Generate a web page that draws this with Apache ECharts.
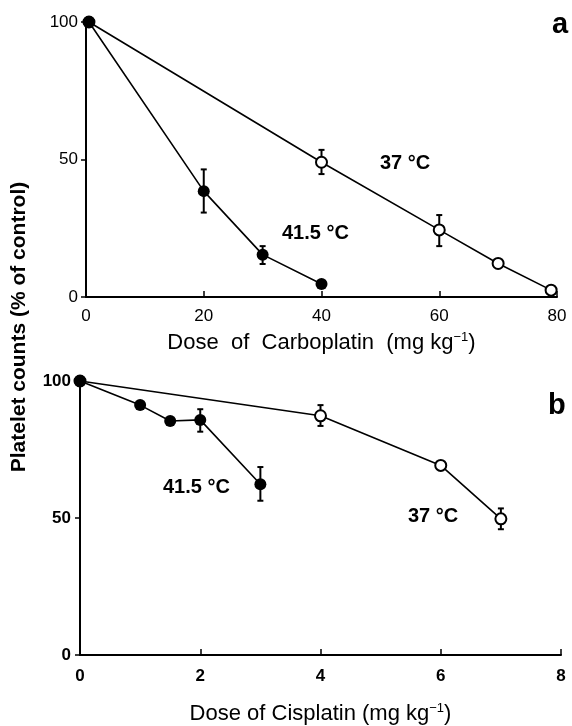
<!DOCTYPE html>
<html>
<head>
<meta charset="utf-8">
<script src="https://cdn.jsdelivr.net/npm/echarts@6/dist/echarts.min.js"></script>
<style>
  html, body { margin: 0; padding: 0; background: #fff; }
  #main { width: 572px; height: 726px; }
</style>
</head>
<body>
<div id="main"></div>
<script>
// panel a: carboplatin
var carboHot = [[0.5, 100], [20, 38.5], [30, 15.4], [40, 4.7]];
var carboHotErr = [[20, 30.7, 46.4], [30, 12.0, 18.5]];
var carboNorm = [[0.5, 100], [40, 49.0], [60, 24.4], [70, 12.2], [79, 2.5]];
var carboNormErr = [[40, 44.7, 53.5], [60, 18.5, 29.8]];

// panel b: cisplatin
var cisHot = [[0, 100], [1, 91.2], [1.5, 85.4], [2, 85.8], [3, 62.3]];
var cisHotErr = [[2, 81.5, 89.7], [3, 56.3, 68.6]];
var cisNorm = [[0, 100], [4, 87.3], [6, 69.2], [7, 49.7]];
var cisNormErr = [[4, 83.6, 91.2], [7, 45.9, 53.5]];

var font = 'Liberation Sans';

var myChart = echarts.init(document.getElementById('main'));

function errBars(data, idx) {
    return {
        type: 'custom',
        xAxisIndex: idx,
        yAxisIndex: idx,
        z: 1,
        data: data,
        renderItem: function (params, api) {
            var lo = api.coord([api.value(0), api.value(1)]);
            var hi = api.coord([api.value(0), api.value(2)]);
            var st = { stroke: '#000', lineWidth: 2 };
            return {
                type: 'group',
                children: [
                    { type: 'line', shape: { x1: lo[0], y1: lo[1], x2: hi[0], y2: hi[1] }, style: st },
                    { type: 'line', shape: { x1: lo[0] - 3, y1: lo[1], x2: lo[0] + 3, y2: lo[1] }, style: st },
                    { type: 'line', shape: { x1: hi[0] - 3, y1: hi[1], x2: hi[0] + 3, y2: hi[1] }, style: st }
                ]
            };
        }
    };
}

function lineSeries(data, idx, open) {
    return {
        type: 'line',
        xAxisIndex: idx,
        yAxisIndex: idx,
        data: data,
        z: open ? 3 : 4,
        symbol: 'circle',
        symbolSize: open ? 11 : 12,
        lineStyle: { color: '#000', width: 1.6 },
        itemStyle: open ? { color: '#fff', borderColor: '#000', borderWidth: 2 } : { color: '#000' },
        animation: false
    };
}

var xName = {
    fontFamily: font, fontSize: 22, color: '#000',
    rich: { sup: { fontFamily: font, fontSize: 13, color: '#000', verticalAlign: 'top', padding: [0, 0, 10, 0] } }
};

var option = {
    animation: false,
    textStyle: { fontFamily: font },
    grid: [
        { left: 86, right: 15, top: 22, height: 275 },
        { left: 80, right: 11, top: 381, height: 274 }
    ],
    xAxis: [
        {
            gridIndex: 0, type: 'value', min: 0, max: 80, interval: 20,
            axisLine: { lineStyle: { color: '#000', width: 2 } },
            axisTick: { inside: true, length: 6, lineStyle: { color: '#000', width: 1.5 } },
            axisLabel: { color: '#000', fontSize: 17, margin: 11 },
            splitLine: { show: false },
            name: 'Dose  of  Carboplatin  (mg kg{sup|−1})',
            nameLocation: 'middle', nameGap: 34, nameTextStyle: xName
        },
        {
            gridIndex: 1, type: 'value', min: 0, max: 8, interval: 2,
            axisLine: { lineStyle: { color: '#000', width: 2 } },
            axisTick: { inside: true, length: 6, lineStyle: { color: '#000', width: 1.5 } },
            axisLabel: { color: '#000', fontSize: 17, fontWeight: 'bold', margin: 13 },
            splitLine: { show: false },
            name: 'Dose of Cisplatin (mg kg{sup|−1})',
            nameLocation: 'middle', nameGap: 47, nameTextStyle: xName
        }
    ],
    yAxis: [
        {
            gridIndex: 0, type: 'value', min: 0, max: 100, interval: 50,
            axisLine: { show: true, lineStyle: { color: '#000', width: 2 } },
            axisTick: { show: true, length: 5, lineStyle: { color: '#000', width: 1.5 } },
            axisLabel: { color: '#000', fontSize: 17, margin: 8 },
            splitLine: { show: false }
        },
        {
            gridIndex: 1, type: 'value', min: 0, max: 100, interval: 50,
            axisLine: { show: true, lineStyle: { color: '#000', width: 2 } },
            axisTick: { show: true, length: 5, lineStyle: { color: '#000', width: 1.5 } },
            axisLabel: { color: '#000', fontSize: 17, fontWeight: 'bold', margin: 9 },
            splitLine: { show: false }
        }
    ],
    series: [
        errBars(carboHotErr, 0),
        errBars(carboNormErr, 0),
        lineSeries(carboHot, 0, false),
        lineSeries(carboNorm, 0, true),
        errBars(cisHotErr, 1),
        errBars(cisNormErr, 1),
        lineSeries(cisHot, 1, false),
        lineSeries(cisNorm, 1, true)
    ],
    graphic: [
        { type: 'text', left: 552, top: 10, style: { text: 'a', fontFamily: font, fontSize: 29, fontWeight: 'bold', fill: '#000' } },
        { type: 'text', left: 548, top: 391, style: { text: 'b', fontFamily: font, fontSize: 29, fontWeight: 'bold', fill: '#000' } },
        { type: 'text', left: 380, top: 153, style: { text: '37 °C', fontFamily: font, fontSize: 20, fontWeight: 'bold', fill: '#000' } },
        { type: 'text', left: 282, top: 223, style: { text: '41.5 °C', fontFamily: font, fontSize: 20, fontWeight: 'bold', fill: '#000' } },
        { type: 'text', left: 163, top: 477, style: { text: '41.5 °C', fontFamily: font, fontSize: 20, fontWeight: 'bold', fill: '#000' } },
        { type: 'text', left: 408, top: 506, style: { text: '37 °C', fontFamily: font, fontSize: 20, fontWeight: 'bold', fill: '#000' } },
        {
            type: 'text', x: 19, y: 327, rotation: Math.PI / 2,
            style: {
                text: 'Platelet counts (% of control)', fontFamily: font, fontSize: 21,
                fontWeight: 'bold', fill: '#000', align: 'center', verticalAlign: 'middle'
            }
        }
    ]
};

myChart.setOption(option);
</script>
</body>
</html>
